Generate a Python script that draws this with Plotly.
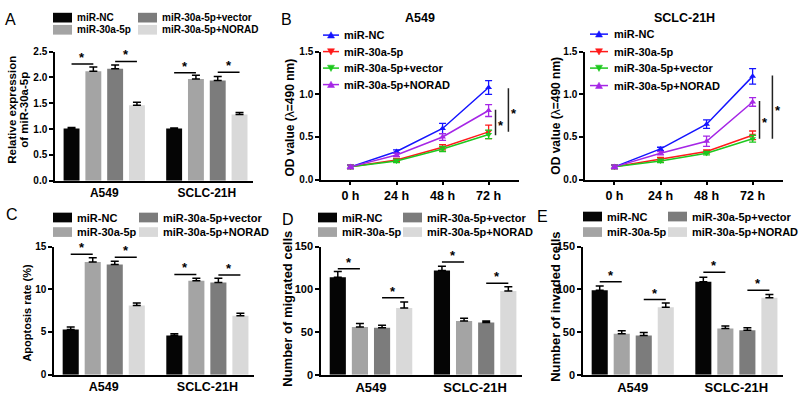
import plotly.graph_objects as go

W, H = 800, 403
FONT = "Arial, 'Liberation Sans', sans-serif"

# ---------------- data ----------------
cell_lines = ["A549", "SCLC-21H"]
bar_groups = ["miR-NC", "miR-30a-5p", "miR-30a-5p+vector", "miR-30a-5p+NORAD"]
bar_colors = ["#050505", "#a4a4a4", "#7c7c7c", "#d9d9d9"]

# Panel A: relative expression of miR-30a-5p (rows = groups, cols = cell lines)
expr_mean = [[1.01, 1.01], [2.12, 1.97], [2.17, 1.94], [1.46, 1.28]]
expr_err = [[0.02, 0.01], [0.08, 0.07], [0.07, 0.08], [0.06, 0.04]]
expr_sig = [(0, 0, 1, 2.26), (0, 2, 3, 2.31), (1, 0, 1, 2.09), (1, 2, 3, 2.10)]

# Panel B: OD value over time
time_points = ["0 h", "24 h", "48 h", "72 h"]
line_groups = ["miR-NC", "miR-30a-5p", "miR-30a-5p+vector", "miR-30a-5p+NORAD"]
line_colors = ["#1414ff", "#ff1a1a", "#1ec81e", "#a526e6"]
line_symbols = ["triangle-up", "triangle-down", "triangle-down", "triangle-up"]
od_a549 = [[0.15, 0.33, 0.60, 1.08], [0.15, 0.23, 0.38, 0.56],
           [0.15, 0.22, 0.36, 0.53], [0.15, 0.29, 0.50, 0.81]]
od_a549_err = [[0.02, 0.02, 0.06, 0.08], [0.02, 0.02, 0.03, 0.08],
               [0.02, 0.02, 0.03, 0.05], [0.02, 0.02, 0.04, 0.07]]
od_sclc = [[0.15, 0.36, 0.65, 1.21], [0.15, 0.24, 0.33, 0.52],
           [0.15, 0.22, 0.31, 0.48], [0.15, 0.31, 0.45, 0.91]]
od_sclc_err = [[0.02, 0.02, 0.05, 0.09], [0.02, 0.02, 0.02, 0.05],
               [0.02, 0.02, 0.02, 0.04], [0.02, 0.02, 0.06, 0.05]]
od_a549_sig = [(3.15, 0.52, 0.82), (3.43, 0.56, 1.07)]
od_sclc_sig = [(3.15, 0.48, 0.92), (3.43, 0.48, 1.22)]

# Panel C: apoptosis rate (%)
apop_mean = [[5.3, 4.6], [13.2, 11.0], [12.9, 10.8], [8.1, 6.9]]
apop_err = [[0.3, 0.2], [0.5, 0.3], [0.4, 0.5], [0.3, 0.3]]
apop_sig = [(0, 0, 1, 14.1), (0, 2, 3, 13.75), (1, 0, 1, 11.74), (1, 2, 3, 11.67)]

# Panel D: migrated cells
migr_mean = [[114, 122], [56, 63], [55, 61], [78, 98]]
migr_err = [[7, 5], [4, 3], [3, 2], [7, 5]]
migr_sig = [(0, 0, 1, 124), (0, 2, 3, 90), (1, 0, 1, 132), (1, 2, 3, 107)]

# Panel E: invaded cells
inv_mean = [[99, 109], [48, 54], [46, 52], [79, 90]]
inv_err = [[5, 5], [3.5, 3], [3.5, 3], [5, 4]]
inv_sig = [(0, 0, 1, 109), (0, 2, 3, 88), (1, 0, 1, 120), (1, 2, 3, 99)]

# ---------------- helpers ----------------
BARGAP = 0.15
BARGROUPGAP = 0.27
slot = (1 - BARGAP) / len(bar_groups)

fig = go.Figure()
shapes = []
annotations = []
layout = {}


def px(x):
    return x / W


def py(y):
    return 1 - y / H


def axis_names(n):
    s = "" if n == 1 else str(n)
    return "x" + s, "y" + s, "xaxis" + s, "yaxis" + s


def text(x, y, t, size, xanchor="center", yanchor="middle", angle=0, bold=True):
    annotations.append(dict(
        x=px(x), y=py(y), xref="paper", yref="paper", text=(f"<b>{t}</b>" if bold else t),
        showarrow=False, xanchor=xanchor, yanchor=yanchor, textangle=angle,
        font=dict(family=FONT, size=size, color="black")))


def yaxis_style(dom_top, dom_bot, xa, rng, ticks, fmt, size):
    return dict(domain=[py(dom_bot), py(dom_top)], anchor=xa, range=rng,
                tickvals=ticks, ticktext=[format(t, fmt) for t in ticks],
                showline=True, linecolor="black", linewidth=1.5, ticks="outside",
                ticklen=4, tickwidth=1.5, tickcolor="black", showgrid=False, zeroline=False,
                tickfont=dict(family=FONT, size=size, color="black", weight="bold"),
                ticklabelstandoff=0, fixedrange=True)


def bar_panel(n, means, errs, sigs, xl, xr, yt, yb, yrng, yticks, yfmt, tsize, csize):
    xa, ya, xk, yk = axis_names(n)
    for k, (name, col) in enumerate(zip(bar_groups, bar_colors)):
        fig.add_trace(go.Bar(
            x=list(range(len(cell_lines))), y=means[k], name=name, showlegend=False,
            marker=dict(color=col, line=dict(width=0)),
            error_y=dict(type="data", array=errs[k], arrayminus=[0] * len(cell_lines),
                         symmetric=False, color="black", thickness=1.5, width=4),
            xaxis=xa, yaxis=ya))
    layout[xk] = dict(domain=[px(xl), px(xr)], anchor=ya, range=[-0.48, 1.45],
                      tickvals=list(range(len(cell_lines))), ticktext=cell_lines,
                      showline=True, linecolor="black", linewidth=1.5, ticks="",
                      showgrid=False, zeroline=False, fixedrange=True,
                      tickfont=dict(family=FONT, size=csize, color="black", weight="bold"))
    layout[yk] = yaxis_style(yt, yb, xa, yrng, yticks, yfmt, tsize)
    for g, i, j, yv in sigs:
        x0 = g + (i - 1.5) * slot
        x1 = g + (j - 1.5) * slot
        shapes.append(dict(type="line", xref=xa, yref=ya, x0=x0, x1=x1, y0=yv, y1=yv,
                           line=dict(color="black", width=1.5)))
        annotations.append(dict(x=(x0 + x1) / 2, y=yv, xref=xa, yref=ya, text="<b>*</b>",
                                showarrow=False, xanchor="center", yanchor="bottom", yshift=-3,
                                font=dict(family=FONT, size=13, color="black")))


def bar_legend(xs1, xs2, r1, r2, size, symw=19, symh=10):
    for k, name in enumerate(bar_groups):
        xs = xs1 if k < 2 else xs2
        ry = r1 if k % 2 == 0 else r2
        shapes.append(dict(type="rect", xref="paper", yref="paper",
                           x0=px(xs), x1=px(xs + symw), y0=py(ry + symh / 2), y1=py(ry - symh / 2),
                           fillcolor=bar_colors[k], line=dict(width=0)))
        text(xs + symw + 3, ry, name, size, xanchor="left")


def line_panel(n, means, errs, sigs, xl, xr, yt, yb, title):
    xa, ya, xk, yk = axis_names(n)
    xs = list(range(len(time_points)))
    for k in range(len(line_groups)):
        fig.add_trace(go.Scatter(
            x=xs, y=means[k], name=line_groups[k], mode="lines+markers", showlegend=False,
            line=dict(color=line_colors[k], width=1.5),
            marker=dict(symbol=line_symbols[k], size=6, color=line_colors[k]),
            error_y=dict(type="data", array=errs[k], color=line_colors[k], thickness=1.3, width=3.5),
            xaxis=xa, yaxis=ya))
    layout[xk] = dict(domain=[px(xl), px(xr)], anchor=ya, range=[-0.64, 3.66],
                      tickvals=xs, ticktext=time_points,
                      showline=True, linecolor="black", linewidth=1.5, ticks="outside",
                      ticklen=4, tickwidth=1.5, tickcolor="black",
                      showgrid=False, zeroline=False, fixedrange=True,
                      tickfont=dict(family=FONT, size=12.5, color="black", weight="bold"))
    layout[yk] = yaxis_style(yt, yb, xa, [0, 1.5], [0, 0.5, 1.0, 1.5], ".1f", 10)
    for xv, y0, y1 in sigs:
        shapes.append(dict(type="line", xref=xa, yref=ya, x0=xv, x1=xv, y0=y0, y1=y1,
                           line=dict(color="#222222", width=1.5)))
        annotations.append(dict(x=xv + 0.12, y=(y0 + y1) / 2, xref=xa, yref=ya, text="<b>*</b>",
                                showarrow=False, xanchor="center", yanchor="middle", yshift=-3,
                                font=dict(family=FONT, size=13, color="black")))
    text((xl + xr) / 2, 12, title, 12.5)


def line_legend(xl0, xl1, xt, rows, size):
    for k, name in enumerate(line_groups):
        ry = rows[k]
        col = line_colors[k]
        shapes.append(dict(type="line", xref="paper", yref="paper", x0=px(xl0), x1=px(xl1),
                           y0=py(ry), y1=py(ry), line=dict(color=col, width=1.5)))
        cx = (xl0 + xl1) / 2
        if line_symbols[k] == "triangle-up":
            pts = [(cx - 3.5, ry + 3), (cx + 3.5, ry + 3), (cx, ry - 3.5)]
        else:
            pts = [(cx - 3.5, ry - 3), (cx + 3.5, ry - 3), (cx, ry + 3.5)]
        path = "M " + " L ".join(f"{px(a):.5f},{py(b):.5f}" for a, b in pts) + " Z"
        shapes.append(dict(type="path", xref="paper", yref="paper", path=path,
                           fillcolor=col, line=dict(color=col, width=0.5)))
        text(xt, ry, name, size, xanchor="left")


# ---------------- build panels ----------------
bar_panel(1, expr_mean, expr_err, expr_sig, 55, 253, 47, 180, [0, 2.5],
          [0, 0.5, 1.0, 1.5, 2.0, 2.5], ".1f", 10, 12)
line_panel(2, od_a549, od_a549_err, od_a549_sig, 321, 519, 47, 179, "A549")
line_panel(3, od_sclc, od_sclc_err, od_sclc_sig, 585, 783, 47, 179, "SCLC-21H")
bar_panel(4, apop_mean, apop_err, apop_sig, 54, 254, 248, 380, [0, 15],
          [0, 5, 10, 15], "d", 10, 12.5)
bar_panel(5, migr_mean, migr_err, migr_sig, 321, 522, 248, 380, [0, 150],
          [0, 50, 100, 150], "d", 11, 13)
bar_panel(6, inv_mean, inv_err, inv_sig, 583, 783, 248, 380, [0, 150],
          [0, 50, 100, 150], "d", 11, 13)

# legends
bar_legend(53, 138, 12, 24.5, 10)
bar_legend(53, 139, 218, 233, 11)
bar_legend(318, 403, 218, 233, 11)
bar_legend(583, 668, 217, 233, 11)
line_legend(323, 339, 342, [30, 47, 64, 81], 11)
line_legend(590, 608, 612, [29, 47, 64, 82], 11)

# axis titles
text(12, 107, "Relative expression", 11.5, angle=-90)
text(24, 107, "of miR-30a-5p", 11.5, angle=-90)
text(290, 115, "OD value (</b>λ<b>=490 nm)", 12, angle=-90)
text(556, 113, "OD value (</b>λ<b>=490 nm)", 12, angle=-90)
text(27, 316, "Apoptosis rate (%)", 11, angle=-90)
text(288, 312, "Number of migrated cells", 13, angle=-90)
text(556, 310, "Number of invaded cells", 13, angle=-90)

# panel letters
for letter, (lx, ly) in zip("ABCDE", [(10, 14), (286, 14), (12, 215), (288, 220), (542, 217)]):
    text(lx, ly, letter, 16, bold=False)

fig.update_layout(
    width=W, height=H, autosize=False,
    margin=dict(l=0, r=0, t=0, b=0),
    paper_bgcolor="white", plot_bgcolor="white",
    barmode="group", bargap=BARGAP, bargroupgap=BARGROUPGAP,
    showlegend=False,
    shapes=shapes, annotations=annotations,
    font=dict(family=FONT, color="black"),
    **layout)

fig.write_html("out.html", config={"displayModeBar": False},
               post_script="document.body.style.margin='0';document.body.style.padding='0';"
                           "document.documentElement.style.overflow='hidden';")
